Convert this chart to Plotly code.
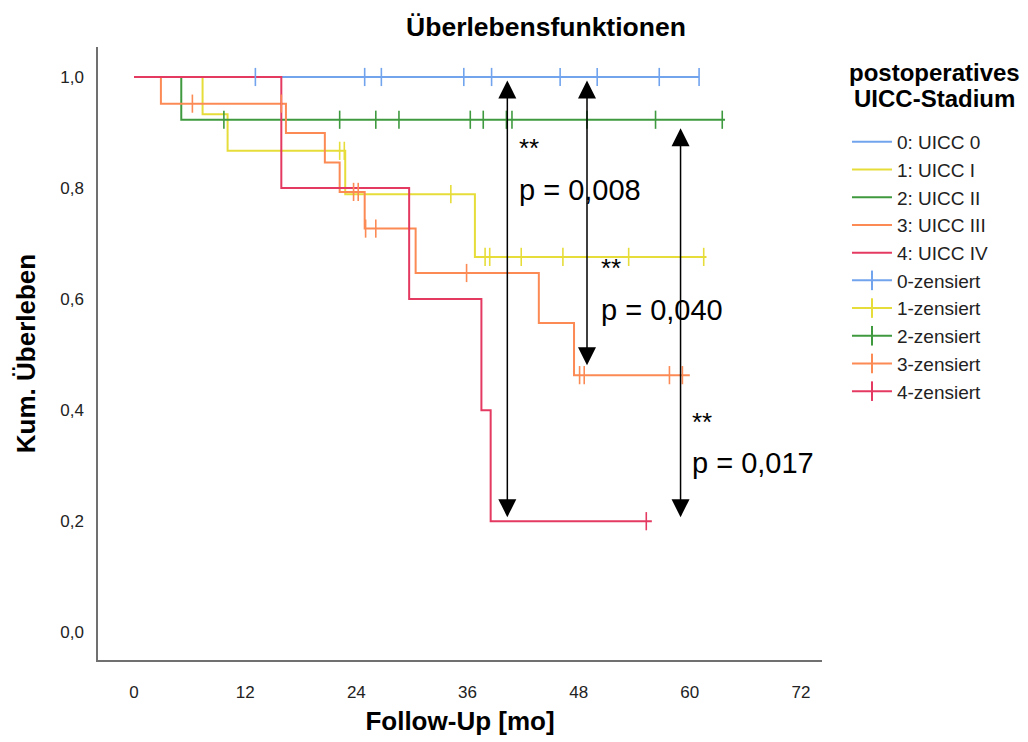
import numpy as np
import plotly.graph_objects as go

# ---------------- data ----------------
group_names = ["0: UICC 0", "1: UICC I", "2: UICC II", "3: UICC III", "4: UICC IV"]
censor_names = ["0-zensiert", "1-zensiert", "2-zensiert", "3-zensiert", "4-zensiert"]

# step functions: event times [mo] and survival after each time
t0 = [0, 61.0]
s0 = [1.0, 1.0]
t1 = [0, 7.4, 10.1, 22.8, 36.8, 61.8]
s1 = [1.0, 0.933, 0.867, 0.789, 0.676, 0.676]
t2 = [0, 5.1, 63.8]
s2 = [1.0, 0.923, 0.923]
t3 = [0, 2.9, 16.4, 20.6, 22.2, 24.9, 30.4, 43.7, 47.5, 60.0]
s3 = [1.0, 0.952, 0.899, 0.846, 0.793, 0.727, 0.647, 0.557, 0.463, 0.463]
t4 = [0, 15.9, 29.7, 37.5, 38.5, 55.9]
s4 = [1.0, 0.8, 0.6, 0.4, 0.2, 0.2]

# censored observations [mo]
c0 = [13.1, 24.9, 26.7, 35.6, 38.6, 46.0, 50.0, 56.7, 61.0]
c1 = [22.2, 22.7, 34.2, 37.9, 38.4, 41.8, 46.3, 53.4, 61.5]
c2 = [9.7, 22.2, 26.1, 28.6, 36.3, 37.7, 40.2, 40.8, 48.9, 56.3, 63.5]
c3 = [6.3, 15.9, 23.7, 24.2, 25.0, 26.1, 35.9, 48.1, 48.6, 57.8, 59.2]
c4 = [55.3]

# pairwise comparisons: (group a, group b), time of arrow, labels
cmp_groups = [(0, 4), (0, 3), (2, 4)]
cmp_time = [40.3, 48.9, 59.0]
cmp_label = ["p = 0,008", "p = 0,040", "p = 0,017"]
cmp_stars = ["**", "**", "**"]

x_ticks = [0, 12, 24, 36, 48, 60, 72]
y_ticks = [0.0, 0.2, 0.4, 0.6, 0.8, 1.0]

legend_title_lines = ["postoperatives", "UICC-Stadium"]

# ---------------- style / placement ----------------
colors = ["#72a4ee", "#e6dd3a", "#3f9a3f", "#fb8a55", "#e43a62"]
FONT = "Arial, Liberation Sans, sans-serif"
arrow_standoffs = [(2, 4), (2, 10), (7, 4)]   # (top, bottom) in px
label_x = [41.3, 50.2, 60.0]
star_y = [0.872, 0.656, 0.378]
plabel_y = [0.796, 0.580, 0.305]
legend_title_px = [72, 98]

# plot area in pixels (for placing the legend title)
PL, PR, PT, PB = 98, 822, 47, 660

times = [t0, t1, t2, t3, t4]
survs = [s0, s1, s2, s3, s4]
cens = [c0, c1, c2, c3, c4]


def surv_at(t_list, s_list, x):
    idx = np.searchsorted(np.asarray(t_list), np.asarray(x), side="right") - 1
    return np.asarray(s_list)[idx]


fig = go.Figure()

for i in range(5):
    fig.add_trace(go.Scatter(
        x=times[i], y=survs[i], mode="lines", line_shape="hv",
        line=dict(color=colors[i], width=2), name=group_names[i],
        hoverinfo="skip"))

for i in range(5):
    fig.add_trace(go.Scatter(
        x=cens[i], y=surv_at(times[i], survs[i], cens[i]), mode="markers",
        marker=dict(symbol="line-ns-open", size=13, color=colors[i],
                    line=dict(color=colors[i], width=1.6)),
        showlegend=False, hoverinfo="skip"))

# legend entries for censored markers
for i in range(5):
    fig.add_trace(go.Scatter(
        x=[None], y=[None], mode="lines+markers", name=censor_names[i],
        line=dict(color=colors[i], width=2),
        marker=dict(symbol="line-ns-open", size=14, color=colors[i],
                    line=dict(color=colors[i], width=2))))

annotations = []
for k, (a, b) in enumerate(cmp_groups):
    xk = cmp_time[k]
    ytop = float(surv_at(times[a], survs[a], [xk])[0])
    ybot = float(surv_at(times[b], survs[b], [xk])[0])
    annotations.append(dict(
        x=xk, y=ybot, ax=xk, ay=ytop, xref="x", yref="y", axref="x", ayref="y",
        text="", showarrow=True, arrowhead=2, startarrowhead=2,
        arrowside="end+start", arrowsize=2.4, startarrowsize=2.4,
        arrowwidth=1.5, arrowcolor="black",
        standoff=arrow_standoffs[k][1], startstandoff=arrow_standoffs[k][0]))
    annotations.append(dict(
        x=label_x[k], y=star_y[k], xref="x", yref="y", text=cmp_stars[k],
        showarrow=False, xanchor="left", yanchor="middle",
        font=dict(family=FONT, size=26, color="black")))
    annotations.append(dict(
        x=label_x[k], y=plabel_y[k], xref="x", yref="y", text=cmp_label[k],
        showarrow=False, xanchor="left", yanchor="middle",
        font=dict(family=FONT, size=29, color="black")))

# legend title (two bold lines)
for txt, ypx in zip(legend_title_lines, legend_title_px):
    annotations.append(dict(
        x=(934 - PL) / (PR - PL), y=(PB - ypx) / (PB - PT),
        xref="paper", yref="paper", text="<b>" + txt + "</b>",
        showarrow=False, xanchor="center", yanchor="middle",
        font=dict(family=FONT, size=24, color="black")))

fig.update_layout(
    width=1028, height=742,
    margin=dict(l=PL, r=1028 - PR, t=PT, b=742 - PB),
    paper_bgcolor="white", plot_bgcolor="white",
    separators=",.",
    title=dict(text="<b>Überlebensfunktionen</b>", x=546 / 1028, xref="container",
               xanchor="center", y=1 - 27 / 742, yref="container", yanchor="middle",
               font=dict(family=FONT, size=26.5, color="black")),
    xaxis=dict(range=[-3.89, 74.27], tickvals=x_ticks, showgrid=False, zeroline=False,
               showline=True, linecolor="#707070", linewidth=1.5, ticks="",
               ticklabelstandoff=16, automargin=False,
               tickfont=dict(family=FONT, size=17, color="#222"),
               title=dict(text="<b>Follow-Up [mo]</b>", standoff=11,
                          font=dict(family=FONT, size=26, color="black"))),
    yaxis=dict(range=[-0.05, 1.054], tickvals=y_ticks, tickformat=".1f", showgrid=False,
               zeroline=False, showline=True, linecolor="#707070", linewidth=1.5,
               ticks="", ticklabelstandoff=9, automargin=False,
               tickfont=dict(family=FONT, size=17, color="#222"),
               title=dict(text="<b>Kum. Überleben</b>", standoff=17,
                          font=dict(family=FONT, size=26, color="black"))),
    legend=dict(x=1.0345, xanchor="left", y=(PB - 123) / (PB - PT), yanchor="top",
                bgcolor="rgba(0,0,0,0)", itemwidth=40, tracegroupgap=0,
                font=dict(family=FONT, size=19, color="#222")),
    annotations=annotations,
    showlegend=True,
)

fig.write_html("out.html")
